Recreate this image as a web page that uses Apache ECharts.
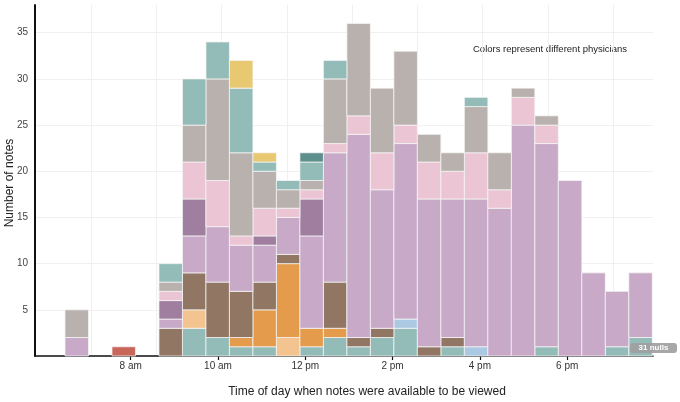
<!DOCTYPE html>
<html><head><meta charset="utf-8">
<script src="https://cdn.jsdelivr.net/npm/echarts@6/dist/echarts.min.js"></script>
<style>html,body{margin:0;padding:0;background:#fff}#c{width:680px;height:402px}</style>
</head><body><div id="c"></div>
<script>
// Histogram bins (hours of day)
const firstBinStartHour = 6.495;
const binWidthHours = 0.5382;
const binCount = 25;
const tickHours = [8, 10, 12, 14, 16, 18];
const tickLabels = ['8 am', '10 am', '12 pm', '2 pm', '4 pm', '6 pm'];

// Note counts per bin for each physician, in stacking order (bottom to top)
const physicianA = [0,0,0,0,0,3,2,1,1,0,1,2,1,2,3,0,1,0,0,0,1,0,0,1,2];
const physicianB = [0,0,0,0,0,0,0,0,0,0,0,0,0,0,1,0,0,1,0,0,0,0,0,0,0];
const physicianC = [0,0,0,0,0,2,0,0,0,2,0,0,0,0,0,0,0,0,0,0,0,0,0,0,0];
const physicianD = [0,0,0,0,0,0,0,1,4,8,2,1,0,0,0,0,0,0,0,0,0,0,0,0,0];
const physicianE = [0,0,0,0,3,4,6,5,3,1,0,5,1,1,0,1,1,0,0,0,0,0,0,0,0];
const physicianF = [0,0,1,0,0,0,0,0,0,0,0,0,0,0,0,0,0,0,0,0,0,0,0,0,0];
const physicianG = [2,0,0,0,1,4,6,5,4,4,10,14,22,15,19,16,15,16,16,25,22,19,9,6,7];
const physicianH = [0,0,0,0,2,4,0,0,1,0,4,0,0,0,0,0,0,0,0,0,0,0,0,0,0];
const physicianI = [0,0,0,0,1,4,5,1,3,1,1,1,2,4,2,4,3,5,2,3,2,0,0,0,0];
const physicianJ = [3,0,0,0,1,4,11,9,4,2,1,7,10,7,8,3,2,5,4,1,1,0,0,0,0];
const physicianK = [0,0,0,0,2,5,4,7,1,1,2,2,0,0,0,0,0,1,0,0,0,0,0,0,0];
const physicianL = [0,0,0,0,0,0,0,3,1,0,0,0,0,0,0,0,0,0,0,0,0,0,0,0,0];
const physicianM = [0,0,0,0,0,0,0,0,0,0,1,0,0,0,0,0,0,0,0,0,0,0,0,0,0];
const nullCount = 31;

const physicians = [physicianA, physicianB, physicianC, physicianD, physicianE, physicianF,
  physicianG, physicianH, physicianI, physicianJ, physicianK, physicianL, physicianM];
const colors = ['#93bcb9', '#abc9e3', '#f3c48f', '#e49b4c', '#917763', '#c9665a',
  '#c8aac8', '#a07ea0', '#ebc5d3', '#b8b1ad', '#93bcb9', '#e9c872', '#5f8f8c'];

const FONT = "'Liberation Sans', Arial, sans-serif";
const cum = new Array(binCount).fill(0);
const series = physicians.map((counts, si) => {
  const data = [];
  counts.forEach((c, b) => {
    if (c > 0) {
      const x0 = firstBinStartHour + b * binWidthHours;
      data.push([x0, x0 + binWidthHours, cum[b], cum[b] + c]);
      cum[b] += c;
    }
  });
  return {
    type: 'custom', xAxisIndex: 0, yAxisIndex: 0,
    itemStyle: { color: colors[si] },
    encode: { x: [0, 1], y: [2, 3] },
    renderItem: function (params, api) {
      const p0 = api.coord([api.value(0), api.value(2)]);
      const p1 = api.coord([api.value(1), api.value(3)]);
      return {
        type: 'rect',
        shape: { x: p0[0], y: p1[1], width: p1[0] - p0[0], height: p0[1] - p1[1] },
        style: { fill: colors[si], stroke: 'rgba(245,245,245,0.75)', lineWidth: 1 }
      };
    },
    data: data
  };
});

const chart = echarts.init(document.getElementById('c'), null, { renderer: 'canvas' });
chart.setOption({
  animation: false,
  grid: [
    { left: 35, right: 27, top: 5, bottom: 46, containLabel: false, outerBoundsMode: 'none' },
    { left: 91, right: 27, top: 5, bottom: 46, containLabel: false, outerBoundsMode: 'none' }
  ],
  xAxis: [
    {
      type: 'value', gridIndex: 0, min: 5.808, max: 19.966,
      axisLine: { show: true, lineStyle: { color: '#111', width: 1.5 } },
      axisTick: { show: true, customValues: tickHours, length: 4, lineStyle: { color: '#111', width: 1.2 } },
      axisLabel: {
        customValues: tickHours, margin: 5, fontSize: 10, color: '#333', fontFamily: FONT,
        formatter: v => tickLabels[tickHours.indexOf(v)] || ''
      },
      splitLine: { show: false }
    },
    {
      type: 'value', gridIndex: 1, min: 0, max: 8.613, interval: 1,
      axisLine: { show: false }, axisTick: { show: false }, axisLabel: { show: false },
      splitLine: { show: true, showMaxLine: false, lineStyle: { color: '#f0f0f0', width: 1 } }
    }
  ],
  yAxis: [
    {
      type: 'value', gridIndex: 0, min: 0, max: 38, interval: 5,
      axisLine: { show: true, lineStyle: { color: '#111', width: 2 } },
      axisTick: { show: false },
      axisLabel: { fontSize: 10, color: '#444', margin: 7, fontFamily: FONT, showMaxLabel: false,
        formatter: v => (v === 0 ? '' : v) },
      splitLine: { show: true, showMaxLine: false, lineStyle: { color: '#f0f0f0', width: 1 } }
    },
    { type: 'value', gridIndex: 1, min: 0, max: 38, show: false }
  ],
  graphic: [
    { type: 'text', x: 10, y: 183, rotation: Math.PI / 2, style: { text: 'Number of notes',
      font: '12px ' + FONT, fill: '#222', align: 'center', verticalAlign: 'middle' } },
    { type: 'text', x: 367, y: 392, style: { text: 'Time of day when notes were available to be viewed',
      font: '12px ' + FONT, fill: '#222', align: 'center', verticalAlign: 'middle' } },
    { type: 'text', x: 473, y: 49, style: { text: 'Colors represent different physicians',
      font: '9.5px ' + FONT, fill: '#222', align: 'left', verticalAlign: 'middle' } },
    { type: 'rect', z: 100, zlevel: 1, shape: { x: 630, y: 343, width: 47, height: 10, r: 3 },
      style: { fill: 'rgba(160,160,160,0.92)' } },
    { type: 'text', z: 101, zlevel: 1, x: 653.5, y: 348, style: { text: nullCount + ' nulls', font: 'bold 8px ' + FONT,
      fill: '#fff', align: 'center', verticalAlign: 'middle' } }
  ],
  series: series
});
</script></body></html>
